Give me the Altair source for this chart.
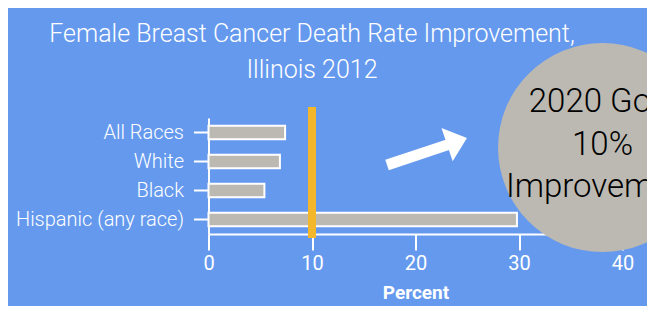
import altair as alt
import pandas as pd

# ---- data ----
categories = ["All Races", "White", "Black", "Hispanic (any race)"]
improvement = [7.4, 6.9, 5.4, 29.8]
goal_value = [10]

# annotation geometry, in data units (x: percent, y: row units, 0 = axis, 4 = top of bars)
title_lines = ["Female Breast Cancer Death Rate Improvement,", "Illinois 2012"]
title_x = [10.0, 10.0]
title_y = [6.90, 5.66]
arrow_x = [17.25, 23.3]
arrow_y = [2.38, 3.10]
head_x = [23.37]
head_y = [3.12]
goal_circle_x = [38.07]
goal_circle_y = [2.98]
goal_text = ["2020 Goal", "10%", "Improvement"]
goal_text_y = [4.55, 3.07, 1.62]

BLUE = "#6499EE"
GRAY = "#BCB9B2"
ORANGE = "#F4B62B"
FONT = "Roboto"

W, H = 414, 116
PAD = {"left": 200.5, "top": 110, "right": 24.5, "bottom": 72}

xscale = alt.Scale(domain=[0, 40], nice=False, zero=False)
yann = alt.Scale(domain=[0, 4], nice=False, zero=False)

bars_df = pd.DataFrame({"group": categories, "value": improvement})

bars = alt.Chart(bars_df).mark_bar(color=GRAY, stroke="white", strokeWidth=2).encode(
    x=alt.X("value:Q", scale=xscale, title="Percent",
            axis=alt.Axis(values=[0, 10, 20, 30, 40], grid=False, domainColor="white",
                          domainWidth=2, tickColor="white", tickWidth=2, tickSize=16,
                          labelFlush=False, labelOverlap=False,
                          labelColor="white", labelFont=FONT, labelFontSize=20,
                          labelPadding=3, titleColor="white", titleFont=FONT,
                          titleFontSize=19, titleFontWeight="bold", titlePadding=10)),
    y=alt.Y("group:N", sort=categories, title=None,
            scale=alt.Scale(paddingInner=0.54, paddingOuter=0.27),
            axis=alt.Axis(domainColor="white", domainWidth=2, tickColor="white",
                          tickWidth=2, tickSize=15, labelColor="white", labelFont=FONT,
                          labelFontSize=20, labelFontWeight=300, labelPadding=10)),
)

goal_line = alt.Chart(pd.DataFrame({"goal": goal_value})).mark_rule(
    color=ORANGE, strokeWidth=8).encode(
    x=alt.X("goal:Q", scale=xscale), y=alt.value(-11), y2=alt.value(120))

arrow_df = pd.DataFrame({"x": [arrow_x[0]], "x2": [arrow_x[1]],
                         "y": [arrow_y[0]], "y2": [arrow_y[1]]})
shaft = alt.Chart(arrow_df).mark_rule(color="white", strokeWidth=11, strokeCap="butt").encode(
    x=alt.X("x:Q", scale=xscale), x2="x2:Q",
    y=alt.Y("y:Q", scale=yann, axis=None), y2="y2:Q")

head = alt.Chart(pd.DataFrame({"x": head_x, "y": head_y})).mark_point(
    shape="M1,0L-0.2,-1L-0.2,1Z", filled=True, color="white", opacity=1,
    size=1225, angle=341.3, strokeWidth=0).encode(
    x=alt.X("x:Q", scale=xscale), y=alt.Y("y:Q", scale=yann, axis=None))

circle = alt.Chart(pd.DataFrame({"x": goal_circle_x, "y": goal_circle_y})).mark_circle(
    color=GRAY, opacity=1, size=43681).encode(
    x=alt.X("x:Q", scale=xscale), y=alt.Y("y:Q", scale=yann, axis=None))

ctext = alt.Chart(pd.DataFrame({"t": goal_text, "x": goal_circle_x * 3, "y": goal_text_y})).mark_text(
    color="black", font=FONT, fontSize=33, fontWeight=300, align="center",
    baseline="middle").encode(
    x=alt.X("x:Q", scale=xscale), y=alt.Y("y:Q", scale=yann, axis=None), text="t:N")

title = alt.Chart(pd.DataFrame({"t": title_lines, "x": title_x, "y": title_y})).mark_text(
    color="white", font=FONT, fontSize=25, fontWeight=300, align="center",
    baseline="middle").encode(
    x=alt.X("x:Q", scale=xscale), y=alt.Y("y:Q", scale=yann, axis=None), text="t:N")

chart = alt.layer(bars, goal_line, shaft, head, circle, ctext, title).resolve_scale(
    y="independent"
).properties(
    width=W, height=H, padding=PAD,
    autosize=alt.AutoSizeParams(type="none"),
    background=BLUE,
).configure_view(stroke=None)

chart.save("out.html", embed_options={"renderer": "svg", "actions": False})
